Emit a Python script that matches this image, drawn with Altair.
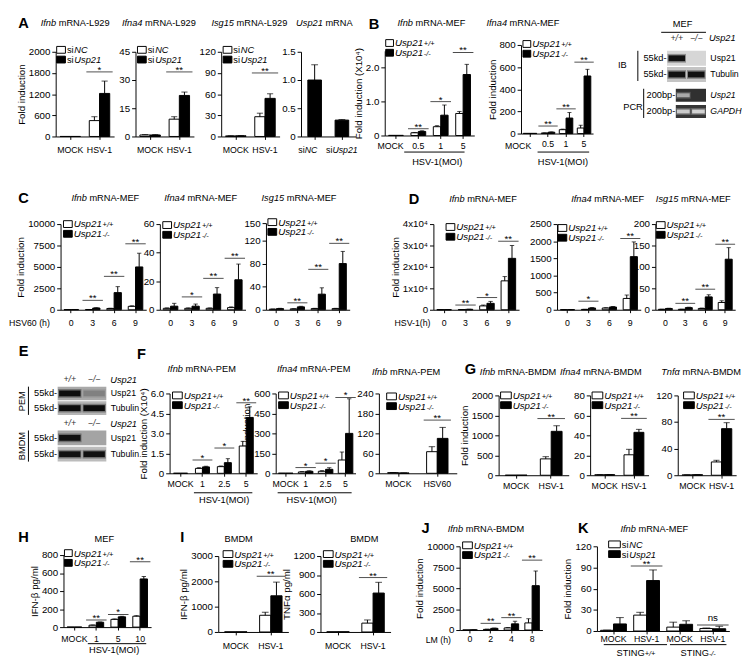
import altair as alt
import pandas as pd

FONT = "Liberation Sans"
VIEW_W, VIEW_H = 742, 658
CTRL, KO = "ctrl", "ko"
SERIES = [CTRL, KO]
FILL = alt.Scale(domain=SERIES, range=["white", "black"])

# ====================== data ======================
# A  (L929, siNC vs siUsp21)
A1_groups = ["MOCK", "HSV-1"]
A1_ctrl, A1_ctrl_err = [1, 450], [0, 110]
A1_ko, A1_ko_err = [1, 1220], [0, 350]
A1_sig = [("HSV-1", 1830, "*")]

A2_groups = ["MOCK", "HSV-1"]
A2_ctrl, A2_ctrl_err = [0.8, 9.2], [0.2, 1.3]
A2_ko, A2_ko_err = [0.8, 21.8], [0.2, 1.8]
A2_sig = [("HSV-1", 34.3, "**")]

A3_groups = ["MOCK", "HSV-1"]
A3_ctrl, A3_ctrl_err = [0.8, 28], [0.2, 5]
A3_ko, A3_ko_err = [1.0, 54], [0.3, 6.5]
A3_sig = [("HSV-1", 90, "**")]

A4_groups = ["siNC", "siUsp21"]
A4_vals, A4_err = [1.0, 0.29], [0.27, 0.01]

# B  (MEF, HSV-1 MOI)
B1_groups = ["MOCK", "0.5", "1", "5"]
B1_ctrl, B1_ctrl_err = [0.005, 0.08, 0.26, 0.65], [0, 0.01, 0.03, 0.06]
B1_ko, B1_ko_err = [0.005, 0.12, 0.6, 1.8], [0, 0.02, 0.3, 0.3]
B1_sig = [("0.5", 0.2, "**"), ("1", 1.0, "*"), ("5", 2.45, "**")]

B2_groups = ["MOCK", "0.5", "1", "5"]
B2_ctrl, B2_ctrl_err = [2, 5, 35, 50], [0, 1, 5, 25]
B2_ko, B2_ko_err = [2, 12, 140, 520], [0, 3, 50, 60]
B2_sig = [("0.5", 68, "**"), ("1", 223, "**"), ("5", 645, "**")]

BLOT_LANES = ["+/+", "\u2212/\u2212"]
B_IB_rows, B_IB_bands = ["Usp21", "Tubulin"], [[1.0, 0.0], [1.0, 1.0]]
B_PCR_rows, B_PCR_bands = ["Usp21", "GAPDH"], [[0.55, 0.0], [0.75, 0.8]]

# C  (MEF, HSV60 hours)
C_groups = ["0", "3", "6", "9"]
C1_ctrl, C1_ctrl_err = [20, 30, 150, 400], [5, 5, 30, 60]
C1_ko, C1_ko_err = [30, 200, 2000, 5000], [5, 40, 700, 1600]
C1_sig = [("3", 1100, "**"), ("6", 3900, "**"), ("9", 7700, "**")]
C2_ctrl, C2_ctrl_err = [1, 1, 1, 1.5], [0.3, 0.3, 0.3, 0.5]
C2_ko, C2_ko_err = [2.5, 2.5, 11, 21], [2, 1.5, 4.5, 11]
C2_sig = [("3", 9, "*"), ("6", 22, "**"), ("9", 36, "**")]
C3_ctrl, C3_ctrl_err = [1, 1.5, 2, 2], [0.3, 0.3, 0.5, 0.5]
C3_ko, C3_ko_err = [2, 5, 27, 80], [0.5, 1, 11, 21]
C3_sig = [("3", 12, "**"), ("6", 70, "**"), ("9", 115, "**")]

# D  (MEF, HSV-1 hours)
D_groups = ["0", "3", "6", "9"]
D1_ctrl, D1_ctrl_err = [50, 100, 1800, 13500], [10, 20, 400, 2000]
D1_ko, D1_ko_err = [50, 200, 3000, 24000], [10, 50, 900, 6000]
D1_sig = [("3", 2200, "**"), ("6", 5700, "*"), ("9", 32000, "**")]
D2_ctrl, D2_ctrl_err = [2, 10, 50, 330], [1, 3, 10, 100]
D2_ko, D2_ko_err = [3, 50, 80, 1550], [1, 15, 15, 430]
D2_sig = [("3", 250, "*"), ("9", 2080, "**")]
D3_ctrl, D3_ctrl_err = [1, 1, 3, 17], [0.3, 0.3, 1, 4]
D3_ko, D3_ko_err = [3, 5, 30, 118], [0.5, 1, 5, 27]
D3_sig = [("3", 15, "**"), ("6", 48, "**"), ("9", 153, "**")]

# E  blots
E_rows = ["Usp21", "Tubulin"]
E_PEM_bands = [[1.0, 0.2], [1.0, 1.0]]
E_BMDM_bands = [[1.0, 0.0], [1.0, 1.0]]

# F  (PEM)
F_groups = ["MOCK", "1", "2.5", "5"]
F1_ctrl, F1_ctrl_err = [0.005, 0.37, 0.5, 2.05], [0, 0.05, 0.05, 0.35]
F1_ko, F1_ko_err = [0.005, 0.48, 0.8, 4.2], [0, 0.05, 0.3, 0.8]
F1_sig = [("1", 1.0, "*"), ("2.5", 1.9, "*"), ("5", 5.3, "**")]
F2_ctrl, F2_ctrl_err = [1, 10, 15, 100], [0, 3, 5, 60]
F2_ko, F2_ko_err = [1, 15, 30, 300], [0, 4, 12, 260]
F2_sig = [("1", 43, "*"), ("2.5", 76, "*"), ("5", 570, "*")]
F3_groups = ["MOCK", "HSV60"]
F3_ctrl, F3_ctrl_err = [2, 65], [0.5, 15]
F3_ko, F3_ko_err = [1, 105], [0.3, 33]
F3_sig = [("HSV60", 160, "**")]

# G  (BMDM)
G_groups = ["MOCK", "HSV-1"]
G1_ctrl, G1_ctrl_err = [1, 410], [0, 55]
G1_ko, G1_ko_err = [2, 1100], [0, 140]
G1_sig = [("HSV-1", 1420, "**")]
G2_ctrl, G2_ctrl_err = [0.5, 20.5], [0.1, 5.5]
G2_ko, G2_ko_err = [0.6, 43], [0.1, 3]
G2_sig = [("HSV-1", 57, "**")]
G3_ctrl, G3_ctrl_err = [0.5, 20], [0.1, 2.5]
G3_ko, G3_ko_err = [0.8, 70], [0.1, 9]
G3_sig = [("HSV-1", 84, "**")]

# H  (MEF ELISA)
H_groups = ["MOCK", "1", "5", "10"]
H_ctrl, H_ctrl_err = [0.5, 21, 86, 121], [0, 3, 5, 6]
H_ko, H_ko_err = [0.5, 54, 114, 535], [0, 3, 6, 27]
H_sig = [("1", 80, "**"), ("5", 140, "*"), ("10", 725, "**")]

# I  (BMDM ELISA)
I_groups = ["MOCK", "HSV-1"]
I1_ctrl, I1_ctrl_err = [5, 660], [0, 120]
I1_ko, I1_ko_err = [5, 1430], [0, 540]
I1_sig = [("HSV-1", 2200, "**")]
I2_ctrl, I2_ctrl_err = [3, 140], [0, 50]
I2_ko, I2_ko_err = [3, 615], [0, 170]
I2_sig = [("HSV-1", 860, "**")]

# J  (BMDM, LM hours)
J_groups = ["0", "2", "4", "8"]
J_ctrl, J_ctrl_err = [10, 80, 250, 850], [0, 20, 50, 500]
J_ko, J_ko_err = [20, 200, 740, 5300], [5, 40, 300, 1750]
J_sig = [("2", 800, "**"), ("4", 1480, "**"), ("8", 8350, "**")]

# K  (MEF, STING+/+ and STING-/-)
K_groups = ["MOCK+", "HSV-1+", "MOCK-", "HSV-1-"]
K_ctrl, K_ctrl_err = [1, 22.5, 5.5, 3.5], [0.3, 4, 7, 0.8]
K_ko, K_ko_err = [10, 71.5, 9.5, 3.2], [9, 15, 5, 3.5]
K_sig = [("HSV-1+", 92, "**"), ("HSV-1-", 8.6, "ns")]

# ====================== helpers ======================
def VX(v):
    return v - 1


def VY(v):
    return v - 4


CW = {' ': 278, '(': 333, ')': 333, '*': 389, '+': 584, '-': 333, '.': 278, '/': 278,
      '\u2212': 584, 'α': 578, 'β': 575, '\u2074': 333}
for ch, w in zip("ABCDEFGHIJKLMNOPQRSTUVWXYZ",
                 [667, 667, 722, 722, 667, 611, 778, 722, 278, 500, 667, 556, 833, 722, 778, 667,
                  778, 722, 667, 611, 722, 667, 944, 667, 667, 611]):
    CW[ch] = w
for ch, w in zip("abcdefghijklmnopqrstuvwxyz",
                 [556, 556, 500, 556, 556, 278, 556, 556, 222, 222, 500, 222, 833, 556, 556, 556,
                  556, 333, 500, 278, 556, 500, 722, 500, 500, 500]):
    CW[ch] = w
for d in "0123456789":
    CW[d] = 556


def tw(s, fs):
    return sum(CW.get(c, 556) for c in s) * fs / 1000.0


def text_layer(t, x, y, size=9.5, italic=False, bold=False, align="left",
               baseline="middle", angle=None, color="black"):
    props = dict(font=FONT, fontSize=size, align=align, baseline=baseline, color=color)
    if italic:
        props["fontStyle"] = "italic"
    if bold:
        props["fontWeight"] = "bold"
    if angle is not None:
        props["angle"] = angle
    return alt.Chart(pd.DataFrame({"t": [t]})).mark_text(**props).encode(
        x=alt.value(VX(x)), y=alt.value(VY(y)), text="t:N")


def runs(parts, x, y, align="left", baseline="middle", gap=0.0):
    total = sum(tw(t, s) for t, s, _ in parts) + gap * (len(parts) - 1)
    if align == "center":
        x = x - total / 2.0
    out = []
    for t, s, it in parts:
        lead = len(t) - len(t.lstrip(" "))
        x += tw(" " * lead, s)
        core = t.strip(" ")
        if core:
            out.append(text_layer(core, x, y, size=s, italic=it, baseline=baseline))
        x += tw(t[lead:], s) + gap
    return out


def hrule(x1, x2, y, w=1):
    return alt.Chart(pd.DataFrame({"t": [0]})).mark_rule(color="black", strokeWidth=w).encode(
        x=alt.value(VX(x1)), x2=alt.value(VX(x2)), y=alt.value(VY(y)))


def vrule(x, y1, y2, w=1):
    return alt.Chart(pd.DataFrame({"t": [0]})).mark_rule(color="black", strokeWidth=w).encode(
        x=alt.value(VX(x)), y=alt.value(VY(y1)), y2=alt.value(VY(y2)))


LEG_LABELS = {
    "si": [[("si", 9.5, False), ("NC", 9.5, True)], [("si", 9.5, False), ("Usp21", 9.5, True)]],
    "usp": [[("Usp21", 10, True), ("+/+", 7.5, True)], [("Usp21", 10, True), ("-/-", 7.5, True)]],
}


def legend(kind, sx, sy, sp, sw=9, sh=7):
    out = []
    sp = max(sp, 10.0)
    for i, s in enumerate(SERIES):
        yc = sy + i * sp
        out.append(alt.Chart(pd.DataFrame({"series": [s]})).mark_rect(
            stroke="black", strokeWidth=1).encode(
            x=alt.value(VX(sx)), x2=alt.value(VX(sx + sw)),
            y=alt.value(VY(yc - sh / 2.0)), y2=alt.value(VY(yc + sh / 2.0)),
            fill=alt.Fill("series:N", scale=FILL, legend=None)))
        out += runs(LEG_LABELS[kind][i], sx + sw + 1.5, yc + 3.5, baseline="alphabetic", gap=0.8)
    return out


def bar_panel(groups, ctrl, ctrl_err, ko, ko_err, sig, geom, dom, ticks, fmt="d",
              lexpr=None, ytitle=None, pad=0.32, lpad=4.5, xlexpr=None):
    L, T, W, H = geom
    x0, x1, yt, yb = VX(L), VX(L + W), VY(T), VY(T + H)
    step = W / float(len(groups))
    pair = step * (1 - pad)
    xs = alt.Scale(domain=groups, range=[x0, x1], paddingInner=pad, paddingOuter=pad / 2.0)
    ys = alt.Scale(domain=dom, range=[yb, yt], nice=False, zero=False)
    xax = dict(orient="bottom", offset=yb - VIEW_H, labelAngle=0, tickSize=3,
               labelPadding=lpad, labelFontSize=9, labelOverlap=False)
    if xlexpr:
        xax["labelExpr"] = xlexpr
    yax = dict(orient="left", offset=-x0, values=ticks, format=fmt, tickSize=4,
               labelPadding=2, labelFontSize=10, titlePadding=2, labelOverlap=False)
    if lexpr:
        yax["labelExpr"] = lexpr
    X = alt.X("group:N", scale=xs, axis=alt.Axis(**xax), title=None)
    Xn = alt.X("group:N", scale=xs, axis=None)
    XO = alt.XOffset("series:N", scale=alt.Scale(domain=SERIES, paddingInner=0, paddingOuter=0))
    Y = alt.Y("value:Q", scale=ys, axis=alt.Axis(**yax), title=ytitle)

    def Yn(f):
        return alt.Y(f, scale=ys, axis=None)

    rows = []
    for g, v, e in zip(groups, ctrl, ctrl_err):
        rows.append(dict(group=g, series=CTRL, value=v, err=e))
    for g, v, e in zip(groups, ko, ko_err):
        rows.append(dict(group=g, series=KO, value=v, err=e))
    df = pd.DataFrame(rows)
    bars = alt.Chart(df).mark_bar(stroke="black", strokeWidth=1).encode(
        x=X, xOffset=XO, y=Y, fill=alt.Fill("series:N", scale=FILL, legend=None))
    eb = alt.Chart(df).transform_filter("datum.err > 0").transform_calculate(
        top="datum.value + datum.err")
    err = eb.mark_rule(color="black", strokeWidth=1).encode(
        x=Xn, xOffset=XO, y=Yn("value:Q"), y2=alt.Y2("top:Q"))
    cap = eb.mark_tick(orient="horizontal", color="black", thickness=1,
                       size=max(3.0, pair * 0.3)).encode(x=Xn, xOffset=XO, y=Yn("top:Q"))
    sdf = pd.DataFrame({"group": [s[0] for s in sig], "sy": [s[1] for s in sig],
                        "lab": [s[2] for s in sig]})
    sline = alt.Chart(sdf).mark_tick(orient="horizontal", color="black", thickness=1,
                                     size=pair + 6).encode(x=Xn, y=Yn("sy:Q"))
    stars = alt.Chart(sdf).transform_filter("datum.lab != 'ns'").mark_text(
        font=FONT, fontSize=10, baseline="alphabetic", dy=1, color="black").encode(
        x=Xn, y=Yn("sy:Q"), text="lab:N")
    ns = alt.Chart(sdf).transform_filter("datum.lab == 'ns'").mark_text(
        font=FONT, fontSize=10, baseline="alphabetic", dy=-4, color="black").encode(
        x=Xn, y=Yn("sy:Q"), text="lab:N")
    return alt.layer(bars, err, cap, sline, stars, ns).resolve_axis(x="independent", y="independent")


def single_panel(groups, vals, errs, geom, dom, ticks, lexpr, pad=0.5, lpad=6.5):
    L, T, W, H = geom
    x0, x1, yt, yb = VX(L), VX(L + W), VY(T), VY(T + H)
    xs = alt.Scale(domain=groups, range=[x0, x1], paddingInner=pad, paddingOuter=pad / 2.0)
    ys = alt.Scale(domain=dom, range=[yb, yt], nice=False, zero=False)
    X = alt.X("group:N", scale=xs, title=None, axis=alt.Axis(
        orient="bottom", offset=yb - VIEW_H, labelAngle=0, tickSize=3, labelPadding=lpad,
        labelFontSize=9, labelOverlap=False, labelExpr="''"))
    Xn = alt.X("group:N", scale=xs, axis=None)
    Y = alt.Y("value:Q", scale=ys, title=None, axis=alt.Axis(
        orient="left", offset=-x0, values=ticks, tickSize=4, labelPadding=2, labelFontSize=10,
        labelExpr=lexpr, labelOverlap=False))
    df = pd.DataFrame({"group": groups, "value": vals, "err": errs})
    bars = alt.Chart(df).mark_bar(color="black", stroke="black", strokeWidth=1).encode(x=X, y=Y)
    eb = alt.Chart(df).transform_calculate(top="datum.value + datum.err")
    err = eb.mark_rule(color="black").encode(x=Xn, y=alt.Y("value:Q", scale=ys, axis=None),
                                             y2=alt.Y2("top:Q"))
    cap = eb.mark_tick(orient="horizontal", color="black", thickness=1, size=7).encode(
        x=Xn, y=alt.Y("top:Q", scale=ys, axis=None))
    return alt.layer(bars, err, cap).resolve_axis(x="independent", y="independent")


def blot(rows, bands, geom, bgc, band_color, thick, size, pad, left_label,
         right_italic=False, lane_pad=None, fs=9):
    L, T, W, H = geom
    x0, x1, y0, y1 = VX(L), VX(L + W), VY(T), VY(T + H)
    xs = alt.Scale(domain=BLOT_LANES, range=[x0, x1], paddingInner=0, paddingOuter=0)
    ys = alt.Scale(domain=rows, range=[y0, y1], paddingInner=pad, paddingOuter=0)
    expr = "'%s'" % bgc[-1]
    for r, c in zip(rows[:-1][::-1], bgc[:-1][::-1]):
        expr = "datum.row == '%s' ? '%s' : %s" % (r, c, expr)
    bg = alt.Chart(pd.DataFrame({"row": rows})).transform_calculate(bgc=expr).mark_rect().encode(
        y=alt.Y("row:N", scale=ys, title=None, axis=alt.Axis(
            orient="left", offset=-x0, labelExpr="'%s'" % left_label, ticks=False, domain=False,
            labelFontSize=fs + 0.5, labelPadding=1)),
        x=alt.value(x0), x2=alt.value(x1), fill=alt.Fill("bgc:N", scale=None))
    recs = []
    for ri, r in enumerate(rows):
        for li, l in enumerate(BLOT_LANES):
            recs.append(dict(row=r, lane=l, i=bands[ri][li]))
    bdf = pd.DataFrame(recs)
    if lane_pad is None:
        xax = None
    else:
        xax = alt.Axis(orient="top", offset=-y0, ticks=False, domain=False, labelAngle=0,
                       labelFontStyle="italic", labelFontSize=9, labelPadding=lane_pad,
                       labelColor="#333333", labelOverlap=False)
    yr = alt.Axis(orient="right", offset=x1 - VIEW_W, ticks=False, domain=False,
                  labelFontSize=fs, labelPadding=4,
                  labelFontStyle=("italic" if right_italic else "normal"))
    halo = alt.Chart(bdf).transform_calculate(o="datum.i * 0.35").mark_tick(
        orient="horizontal", thickness=thick + 3, size=size + 2, color=band_color).encode(
        x=alt.X("lane:N", scale=xs, axis=None),
        y=alt.Y("row:N", scale=ys, axis=None),
        opacity=alt.Opacity("o:Q", scale=None))
    core = alt.Chart(bdf).mark_tick(orient="horizontal", thickness=thick, size=size,
                                    color=band_color).encode(
        x=alt.X("lane:N", scale=xs, axis=xax, title=None),
        y=alt.Y("row:N", scale=ys, axis=yr, title=None),
        opacity=alt.Opacity("i:Q", scale=None))
    return alt.layer(bg, halo, core).resolve_axis(x="independent", y="independent")


DEC = "datum.value == 0 ? '0' : format(datum.value, '.1f')"
NOMOCK = "datum.value == 'MOCK' ? '' : datum.label"
FI = "Fold induction"

# ====================== panels ======================
panels = [
    bar_panel(A1_groups, A1_ctrl, A1_ctrl_err, A1_ko, A1_ko_err, A1_sig, (40, 39, 60, 87),
              [0, 2400], [0, 600, 1200, 1800, 2400],
              lexpr="datum.value == 2400 ? '2000' : datum.label", ytitle=FI, pad=0.3, lpad=6.5),
    bar_panel(A2_groups, A2_ctrl, A2_ctrl_err, A2_ko, A2_ko_err, A2_sig, (122, 39, 60, 87),
              [0, 45], [0, 15, 30, 45], pad=0.3, lpad=6.5),
    bar_panel(A3_groups, A3_ctrl, A3_ctrl_err, A3_ko, A3_ko_err, A3_sig, (210, 39, 60, 87),
              [0, 120], [0, 30, 60, 90, 120], pad=0.3, lpad=6.5),
    single_panel(A4_groups, A4_vals, A4_err, (292, 39, 56, 87), [0, 1.5], [0, 0.5, 1.0, 1.5], DEC),
    bar_panel(B1_groups, B1_ctrl, B1_ctrl_err, B1_ko, B1_ko_err, B1_sig, (378, 38, 92, 87),
              [0, 2.5], [0, 0.5, 1.0, 1.5, 2.0, 2.5], lexpr=DEC,
              ytitle="Fold induction (X10\u2074)", pad=0.34, lpad=3.5, xlexpr=NOMOCK),
    bar_panel(B2_groups, B2_ctrl, B2_ctrl_err, B2_ko, B2_ko_err, B2_sig, (518, 32, 74, 91),
              [0, 800], [0, 200, 400, 600, 800], ytitle=FI, pad=0.25, lpad=3.5, xlexpr=NOMOCK),
    bar_panel(C_groups, C1_ctrl, C1_ctrl_err, C1_ko, C1_ko_err, C1_sig, (45, 216, 88, 88),
              [0, 10000], [0, 2500, 5000, 7500, 10000], ytitle=FI, pad=0.32, lpad=6.5),
    bar_panel(C_groups, C2_ctrl, C2_ctrl_err, C2_ko, C2_ko_err, C2_sig, (147, 216, 88, 88),
              [0, 60], [0, 20, 40, 60], pad=0.32, lpad=6.5),
    bar_panel(C_groups, C3_ctrl, C3_ctrl_err, C3_ko, C3_ko_err, C3_sig, (256, 215, 86, 89),
              [0, 150], [0, 40, 80, 120, 150], pad=0.32, lpad=6.5),
    bar_panel(D_groups, D1_ctrl, D1_ctrl_err, D1_ko, D1_ko_err, D1_sig, (428, 216, 88, 88),
              [0, 40000], [0, 10000, 20000, 30000, 40000],
              lexpr="datum.value == 0 ? '0' : (datum.value / 10000) + 'x10\u2074'",
              ytitle=FI, pad=0.32, lpad=6.5),
    bar_panel(D_groups, D2_ctrl, D2_ctrl_err, D2_ko, D2_ko_err, D2_sig, (555, 216, 86, 88),
              [0, 2500], [0, 500, 1000, 1500, 2000, 2500], pad=0.32, lpad=6.5),
    bar_panel(D_groups, D3_ctrl, D3_ctrl_err, D3_ko, D3_ko_err, D3_sig, (656, 216, 82, 88),
              [0, 200], [0, 50, 100, 150, 200], pad=0.3, lpad=6.5),
    bar_panel(F_groups, F1_ctrl, F1_ctrl_err, F1_ko, F1_ko_err, F1_sig, (157, 390, 90, 82),
              [0, 6], [0, 1.5, 3.0, 4.5, 6.0], lexpr=DEC,
              ytitle="Fold induction (X10\u2074)", pad=0.36, lpad=3.5),
    bar_panel(F_groups, F2_ctrl, F2_ctrl_err, F2_ko, F2_ko_err, F2_sig, (266, 390, 82, 82),
              [0, 600], [0, 150, 300, 450, 600], ytitle=FI, pad=0.27, lpad=3.5),
    bar_panel(F3_groups, F3_ctrl, F3_ctrl_err, F3_ko, F3_ko_err, F3_sig, (372, 390, 80, 82),
              [0, 240], [0, 60, 120, 180, 240], pad=0.45, lpad=3.5),
    bar_panel(G_groups, G1_ctrl, G1_ctrl_err, G1_ko, G1_ko_err, G1_sig, (495, 392, 72, 82),
              [0, 2000], [0, 500, 1000, 1500, 2000], ytitle=FI, pad=0.38, lpad=3.5),
    bar_panel(G_groups, G2_ctrl, G2_ctrl_err, G2_ko, G2_ko_err, G2_sig, (589, 392, 60, 82),
              [0, 80], [0, 20, 40, 60, 80], pad=0.32, lpad=3.5),
    bar_panel(G_groups, G3_ctrl, G3_ctrl_err, G3_ko, G3_ko_err, G3_sig, (679, 392, 60, 82),
              [0, 120], [0, 40, 80, 120], pad=0.3, lpad=3.5),
    bar_panel(H_groups, H_ctrl, H_ctrl_err, H_ko, H_ko_err, H_sig, (48, 556, 90, 74),
              [0, 800], [0, 200, 400, 600, 800], ytitle="IFN-\u03b2 pg/ml", pad=0.33, lpad=4.5),
    bar_panel(I_groups, I1_ctrl, I1_ctrl_err, I1_ko, I1_ko_err, I1_sig, (207, 557, 72, 78),
              [0, 3000], [0, 1000, 2000, 3000], ytitle="IFN-\u03b2 pg/ml", pad=0.36, lpad=7.5),
    bar_panel(I_groups, I2_ctrl, I2_ctrl_err, I2_ko, I2_ko_err, I2_sig, (312, 557, 72, 78),
              [0, 1200], [0, 300, 600, 900, 1200], ytitle="TNF\u03b1 pg/ml", pad=0.36, lpad=7.5),
    bar_panel(J_groups, J_ctrl, J_ctrl_err, J_ko, J_ko_err, J_sig, (455, 547, 85, 86),
              [0, 10000], [0, 2500, 5000, 7500, 10000], ytitle=FI, pad=0.3, lpad=1.5),
    bar_panel(K_groups, K_ctrl, K_ctrl_err, K_ko, K_ko_err, K_sig, (596, 547, 136, 87),
              [0, 120], [0, 30, 60, 90, 120], ytitle=FI, pad=0.22, lpad=1,
              xlexpr="slice(datum.value, 0, -1)"),
]

blots = [
    blot(B_IB_rows, B_IB_bands, (668, 38, 40, 32), ["#d6d6d6", "#c4c4c4"], "#111111",
         6, 17, 0.08, "55kd-", lane_pad=9),
    blot(B_PCR_rows, B_PCR_bands, (677, 77, 31, 30), ["#303030", "#363636"], "#eeeeee",
         4, 13, 0.2, "200bp-", right_italic=True),
    blot(E_rows, E_PEM_bands, (42, 383, 50, 29), ["#a9a9a9", "#b5b5b5"], "#0d0d0d",
         6, 22, 0.08, "55kd-", lane_pad=3),
    blot(E_rows, E_BMDM_bands, (42, 428, 50, 32), ["#a4a4a4", "#bcbcbc"], "#111111",
         6, 22, 0.1, "55kd-", lane_pad=3),
]

# ====================== labels & annotations ======================
decos = []
for ch, x, y in [("A", 7, 10), ("B", 367, 11), ("C", 7, 189), ("D", 408, 190), ("E", 7, 347),
                 ("F", 128, 350), ("G", 466, 365), ("H", 7, 538), ("I", 170, 538),
                 ("J", 420, 528), ("K", 582, 528)]:
    decos.append(text_layer(ch, x, y, size=15, bold=True, align="center"))

TITLES = [("Ifnb", "mRNA-L929", 60, 10), ("Ifna4", "mRNA-L929", 146, 10),
          ("Isg15", "mRNA-L929", 239, 10), ("Usp21", "mRNA", 316, 10),
          ("Ifnb", "mRNA-MEF", 426, 10), ("Ifna4", "mRNA-MEF", 520, 10),
          ("Ifnb", "mRNA-MEF", 91, 189), ("Ifna4", "mRNA-MEF", 189, 189),
          ("Isg15", "mRNA-MEF", 290, 189), ("Ifnb", "mRNA-MEF", 479, 190),
          ("Ifna4", "mRNA-MEF", 607, 190), ("Isg15", "mRNA-MEF", 695, 190),
          ("Ifnb", "mRNA-PEM", 190, 365), ("Ifna4", "mRNA-PEM", 305, 365),
          ("Ifnb", "mRNA-PEM", 400, 368), ("Ifnb", "mRNA-BMDM", 515, 368),
          ("Ifna4", "mRNA-BMDM", 600, 368), ("Tnf\u03b1", "mRNA-BMDM", 703, 368),
          ("", "MEF", 90, 540), ("", "BMDM", 228, 540), ("", "BMDM", 357, 540),
          ("Ifnb", "mRNA-BMDM", 482, 529), ("Ifnb", "mRNA-MEF", 655, 529)]
for gene, rest, cx, cy in TITLES:
    parts = [(gene, 9.5, True), (" " + rest, 9.5, False)] if gene else [(rest, 9.5, False)]
    decos += runs(parts, cx, cy, align="center")

LEGENDS = [("si", 41, 37, 8.5, 9), ("si", 124, 37, 8.5, 9), ("si", 212, 37, 8.5, 9),
           ("usp", 379, 30, 8, 8), ("usp", 520, 31, 8, 8),
           ("usp", 48, 216, 8.5, 9), ("usp", 150, 217, 8.5, 9), ("usp", 258, 214, 8.5, 9),
           ("usp", 441, 219, 10, 9), ("usp", 556, 220, 9, 9), ("usp", 657, 217, 9, 9),
           ("usp", 160, 392, 9, 10), ("usp", 269, 392, 9, 10), ("usp", 380, 393, 9, 10),
           ("usp", 497, 392, 10, 11), ("usp", 591, 392, 10, 11), ("usp", 685, 392, 10, 11),
           ("usp", 49, 554, 8, 8), ("usp", 212, 555, 8.5, 10), ("usp", 315, 555, 8.5, 10),
           ("usp", 458, 546, 8.5, 10), ("si", 608, 545, 8, 12)]
for kind, sx, sy, sp, sw in LEGENDS:
    decos += legend(kind, sx, sy, sp, sw=sw)

# MOCK labels placed like the reference (left of the evenly spaced groups)
decos.append(text_layer("MOCK", 384, 136, size=9, align="center"))
decos.append(text_layer("MOCK", 515, 136, size=9, align="center"))
decos += runs([("si", 9, False), ("NC", 9, True)], 299, 140, align="center")
decos += runs([("si", 9, False), ("Usp21", 9, True)], 334, 140, align="center")

# second-level x labels
for x1, x2, y, cx, ty in [(398, 460, 142, 432, 152), (535, 588, 142, 561, 152),
                          (182, 242, 492, 213, 500), (268, 344, 492, 303, 500),
                          (73, 133, 647, 100, 654)]:
    decos.append(hrule(x1, x2, y))
    decos.append(text_layer("HSV-1(MOI)", cx, ty, size=9.5, align="center"))
decos.append(hrule(603, 668, 648))
decos.append(hrule(671, 729, 648))
decos += runs([("STING", 9.5, False), ("+/+", 7.5, True)], 636, 660, align="center",
              baseline="alphabetic")
decos += runs([("STING", 9.5, False), ("-/-", 7.5, True)], 700, 660, align="center",
              baseline="alphabetic")
decos.append(text_layer("HSV60 (h)", 34, 318, size=9, align="right"))
decos.append(text_layer("HSV-1(h)", 425, 318, size=9, align="right"))
decos.append(text_layer("LM (h)", 446, 643, size=9, align="right"))

# blot annotations
decos.append(text_layer("MEF", 684, 11, size=9.5, align="center"))
decos.append(hrule(662, 708, 19))
decos.append(text_layer("Usp21", 711, 25, size=9.5, italic=True))
decos.append(text_layer("IB", 622, 53, size=9.5, align="center"))
decos.append(vrule(638, 38, 69))
decos.append(text_layer("PCR", 633, 96, size=9.5, align="center"))
decos.append(vrule(644, 77, 107))
decos.append(text_layer("Usp21", 96, 376, size=9.5, italic=True))
decos.append(text_layer("Usp21", 96, 421, size=9.5, italic=True))
decos.append(text_layer("PEM", 5, 398, size=9.5, align="center", angle=270))
decos.append(vrule(12, 383, 412))
decos.append(text_layer("BMDM", 5, 444, size=9.5, align="center", angle=270))
decos.append(vrule(12, 428, 460))

chart = alt.layer(*(panels + blots + decos)).resolve_scale(
    x="independent", y="independent", xOffset="independent"
).properties(width=VIEW_W, height=VIEW_H, padding=0).configure_view(
    stroke=None
).configure_axis(
    labelFont=FONT, titleFont=FONT, labelColor="black", titleColor="black",
    domainColor="black", tickColor="black", grid=False, titleFontWeight="normal",
    titleFontSize=10, domainWidth=1, tickWidth=1
)

chart.save("out.html", embed_options={"renderer": "svg", "actions": False})
